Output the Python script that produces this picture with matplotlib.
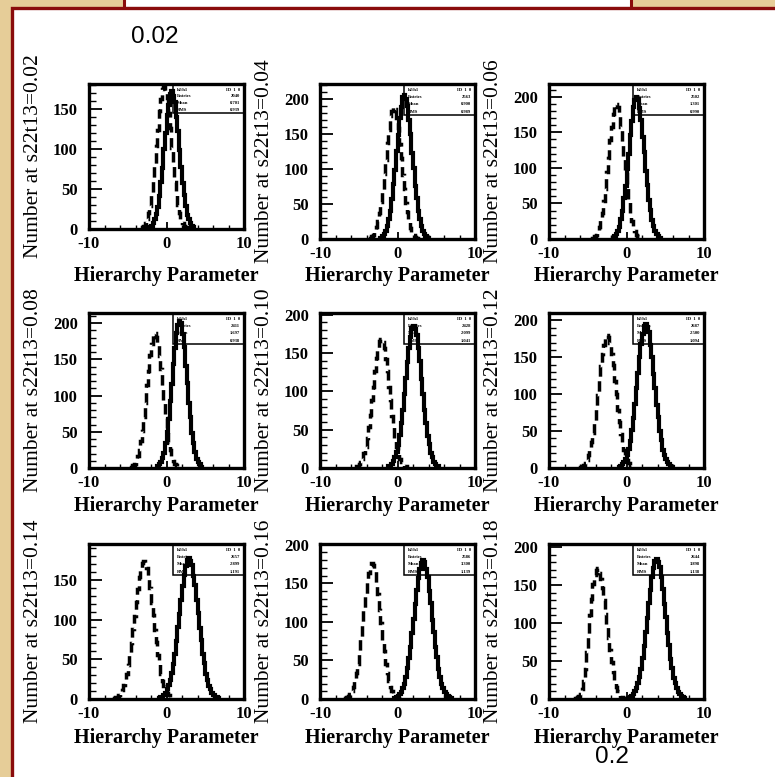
import numpy as np
import matplotlib
matplotlib.use('Agg')
import matplotlib.pyplot as plt
import matplotlib.patches as mpatches
from matplotlib.ticker import MultipleLocator

W, H = 775, 777

plt.rcParams['font.family'] = ['Liberation Serif', 'DejaVu Serif']
plt.rcParams['font.weight'] = 'bold'
plt.rcParams['axes.unicode_minus'] = False

# s22t13 value of each panel and y-range of its frame
S22T13 = ['0.02', '0.04', '0.06', '0.08', '0.10', '0.12', '0.14', '0.16', '0.18']
YMAX = [181, 221, 218, 214, 202, 210, 195, 201, 204]
BIN_WIDTH = 0.2

# left edge of first non-empty bin, then bin counts (solid = first hierarchy, dashed = other)
SOLID_START = [-2.2, -2.2, -1.8, -1.2, -1.2, -1.0, -1.0, -0.4, 0.2]
DASHED_START = [-3.2, -3.6, -4.4, -4.6, -5.4, -6.0, -6.8, -6.8, -6.6]

solid_002 = [2, 4, 7, 12, 19, 28, 41, 59, 76, 100, 120, 142, 155, 169, 172, 166, 158, 140,
             122, 98, 78, 57, 43, 29, 18, 12, 7, 4, 2]
solid_004 = [2, 4, 7, 11, 18, 29, 40, 57, 78, 99, 125, 148, 172, 188, 202, 205, 199, 190,
             170, 150, 123, 101, 76, 58, 40, 28, 19, 11, 7, 4, 2]
solid_006 = [2, 4, 7, 11, 17, 28, 39, 57, 74, 98, 120, 146, 166, 186, 195, 200, 197, 184,
             168, 144, 122, 96, 76, 55, 41, 27, 18, 11, 7, 4, 2]
solid_008 = [3, 5, 8, 14, 21, 35, 50, 68, 92, 116, 143, 165, 187, 198, 203, 200, 185, 167,
             141, 118, 90, 70, 48, 34, 22, 13, 8, 5, 2]
solid_010 = [2, 3, 5, 9, 14, 21, 30, 43, 58, 76, 96, 117, 138, 157, 171, 182, 185, 181,
             173, 156, 139, 116, 97, 75, 59, 42, 31, 20, 14, 8, 5, 3, 2]
solid_012 = [2, 3, 5, 8, 12, 18, 26, 37, 51, 68, 87, 108, 129, 150, 168, 182, 192, 195,
             191, 184, 167, 151, 128, 109, 86, 69, 50, 38, 25, 18, 12, 8, 5, 3, 2]
solid_014 = [1, 2, 3, 5, 8, 12, 17, 24, 33, 44, 57, 73, 90, 107, 125, 142, 156, 167, 175,
             177, 174, 168, 155, 143, 124, 108, 89, 74, 56, 45, 32, 24, 16, 12, 8, 5, 3, 2, 1]
solid_016 = [1, 2, 4, 6, 9, 14, 20, 29, 40, 53, 68, 86, 104, 123, 141, 157, 169, 177, 180,
             178, 168, 158, 140, 124, 103, 87, 67, 54, 39, 29, 20, 14, 9, 6, 4, 2, 1]
solid_018 = [1, 2, 4, 6, 10, 14, 21, 29, 40, 54, 70, 88, 107, 126, 144, 161, 173, 181, 184,
             180, 174, 160, 145, 125, 108, 87, 71, 53, 41, 28, 21, 14, 9, 6, 4, 2, 1]

dashed_002 = [2, 4, 8, 12, 20, 29, 44, 60, 79, 103, 124, 147, 162, 175, 178, 172, 164, 145,
              126, 101, 81, 59, 42, 30, 20, 12, 7, 4, 2]
dashed_004 = [2, 4, 6, 11, 17, 26, 37, 53, 70, 93, 113, 137, 156, 175, 183, 188, 185, 173,
              158, 135, 115, 91, 72, 51, 38, 25, 16, 10, 6, 3, 2]
dashed_006 = [2, 4, 6, 10, 17, 27, 37, 54, 70, 94, 114, 139, 158, 176, 187, 190, 185, 176,
              158, 137, 116, 92, 72, 52, 37, 26, 17, 11, 6, 4, 2]
dashed_008 = [2, 4, 6, 10, 17, 25, 37, 51, 70, 90, 114, 134, 156, 171, 183, 186, 181, 172,
              154, 136, 112, 92, 69, 52, 36, 25, 16, 10, 6, 4, 2]
dashed_010 = [2, 3, 5, 8, 12, 19, 27, 39, 53, 69, 88, 106, 126, 144, 155, 165, 168, 164,
              157, 142, 127, 106, 88, 68, 54, 38, 28, 18, 12, 8, 5, 3, 2]
dashed_012 = [1, 3, 4, 7, 11, 17, 24, 35, 47, 62, 80, 99, 119, 138, 155, 167, 177, 180,
              178, 169, 154, 139, 118, 100, 79, 63, 46, 35, 24, 16, 11, 7, 4, 3, 1]
dashed_014 = [1, 2, 3, 5, 8, 11, 17, 23, 32, 43, 56, 71, 88, 105, 122, 139, 153, 164, 171,
              173, 170, 165, 152, 140, 121, 106, 87, 72, 55, 44, 31, 23, 16, 11, 8, 5, 3, 2, 1]
dashed_016 = [1, 2, 4, 7, 11, 16, 24, 34, 46, 61, 78, 97, 117, 135, 152, 164, 173, 176,
              174, 166, 151, 136, 116, 98, 77, 62, 45, 34, 23, 16, 11, 7, 4, 2, 1]
dashed_018 = [1, 2, 4, 7, 13, 24, 40, 62, 86, 110, 132, 151, 163, 170, 172, 166, 158, 146,
              130, 112, 96, 80, 64, 49, 36, 25, 16, 10, 6, 3, 2, 1]

SOLID = [solid_002, solid_004, solid_006, solid_008, solid_010,
         solid_012, solid_014, solid_016, solid_018]
DASHED = [dashed_002, dashed_004, dashed_006, dashed_008, dashed_010,
          dashed_012, dashed_014, dashed_016, dashed_018]

# frame layout in pixels
COL_LEFT = [89, 320, 549]
ROW_TOP = [84, 313, 544]
XLABEL_Y = [276, 506, 738]
AX_W = 155
AX_H = 155

TAN = '#e6cd98'
DARK_RED = '#8a0c0c'


def edges_for(start, counts):
    return start + BIN_WIDTH * np.arange(len(counts) + 1)


def stats_box(ax, counts, start):
    centers = edges_for(start, counts)[:-1] + BIN_WIDTH / 2
    c = np.asarray(counts, float)
    mean = (c * centers).sum() / c.sum()
    rms = np.sqrt((c * (centers - mean) ** 2).sum() / c.sum())
    ax.add_patch(mpatches.Rectangle((0.54, 0.8), 0.46, 0.2, transform=ax.transAxes,
                                    facecolor='white', edgecolor='black', lw=1.1, zorder=2))
    rows = [('h2/h1', 'ID  1  0'), ('Entries', f'{int(c.sum())}'),
            ('Mean', f'{mean:.3f}'), ('RMS', f'{rms:.3f}')]
    for i, (k, v) in enumerate(rows):
        y = 0.975 - i * 0.047
        ax.text(0.565, y, k, transform=ax.transAxes, fontsize=3.3, va='top',
                ha='left', zorder=2.5)
        ax.text(0.975, y, v, transform=ax.transAxes, fontsize=3.3, va='top',
                ha='right', zorder=2.5)


fig = plt.figure(figsize=(W / 100, H / 100), dpi=100)
fig.patch.set_facecolor(TAN)

# tab at the top and the white sheet with its dark red border
fig.add_artist(mpatches.Rectangle((124 / W, 1 - 8 / H), (631 - 124) / W, 20 / H,
                                  transform=fig.transFigure, facecolor='white',
                                  edgecolor=DARK_RED, lw=2.2, zorder=-3))
fig.add_artist(mpatches.Rectangle((12 / W, -0.05), 1.0, 1.05 - 8 / H,
                                  transform=fig.transFigure, facecolor='white',
                                  edgecolor=DARK_RED, lw=2.4, zorder=-2))

for i in range(9):
    r, col = divmod(i, 3)
    left, top = COL_LEFT[col], ROW_TOP[r]
    h = 145 if i == 0 else AX_H
    ax = fig.add_axes([left / W, 1 - (top + h) / H, AX_W / W, h / H])
    ax.set_facecolor('white')

    ax.stairs(SOLID[i], edges_for(SOLID_START[i], SOLID[i]), baseline=0,
              color='black', lw=3.0, zorder=3)
    ax.stairs(DASHED[i], edges_for(DASHED_START[i], DASHED[i]), baseline=0,
              color='black', lw=2.5, linestyle=(0, (3.0, 1.6)), zorder=3)
    stats_box(ax, SOLID[i], SOLID_START[i])

    ax.set_xlim(-10, 10)
    ax.set_ylim(0, YMAX[i])
    ax.set_xticks([-10, 0, 10])
    ax.xaxis.set_minor_locator(MultipleLocator(2))
    ax.set_yticks(np.arange(0, YMAX[i] + 1, 50))
    ax.yaxis.set_minor_locator(MultipleLocator(10))
    ax.tick_params(which='both', direction='in', top=False, right=False, labelsize=12)
    ax.tick_params(axis='y', which='major', length=9, width=1.3, pad=8)
    ax.tick_params(axis='y', which='minor', length=5, width=1.0)
    ax.tick_params(axis='x', which='major', length=5, width=1.3, pad=5)
    ax.tick_params(axis='x', which='minor', length=3, width=1.0)
    for s in ax.spines.values():
        s.set_linewidth(2.4)

    ax.set_ylabel(f'Number at s22t13={S22T13[i]}', fontsize=15.5, fontweight='normal')
    ax.yaxis.set_label_coords(-46 / AX_W, 0.5)
    fig.text((left + AX_W / 2) / W, 1 - XLABEL_Y[r] / H, 'Hierarchy Parameter',
             ha='center', va='center', fontsize=14.5, fontweight='bold')

fig.text(155 / W, 1 - 37 / H, '0.02', ha='center', va='center', fontsize=17.5,
         fontweight='normal', family='Liberation Sans')
fig.text(612 / W, 1 - 757 / H, '0.2', ha='center', va='center', fontsize=17.5,
         fontweight='normal', family='Liberation Sans')

fig.savefig('out.png', dpi=100, facecolor=fig.get_facecolor())
